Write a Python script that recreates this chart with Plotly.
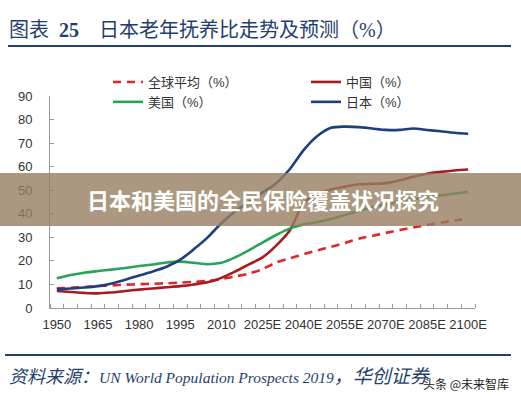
import plotly.graph_objects as go

years = [1950, 1955, 1960, 1965, 1970, 1975, 1980, 1985, 1990, 1995, 2000,
         2005, 2010, 2015, 2020, 2025, 2030, 2035, 2040, 2045, 2050,
         2055, 2060, 2065, 2070, 2075, 2080, 2085, 2090, 2095, 2100]
tick_years = [1950, 1965, 1980, 1995, 2010, 2025, 2040, 2055, 2070, 2085, 2100]
tick_labels = ["1950", "1965", "1980", "1995", "2010", "2025E", "2040E",
               "2055E", "2070E", "2085E", "2100E"]

world = [8.4, 8.6, 8.9, 9.3, 9.6, 9.9, 10.1, 10.3, 10.5, 10.8, 11.1,
         11.5, 12.3, 13.4, 14.6, 16.5, 19.3, 21.1, 22.8, 24.5, 26.0,
         27.6, 29.4, 30.6, 31.9, 33.1, 34.2, 35.2, 36.2, 37.1, 38.0]
china = [7.2, 6.8, 6.4, 6.2, 6.6, 7.2, 7.8, 8.3, 8.8, 9.3, 10.0,
         10.9, 12.8, 15.5, 18.5, 21.5, 26.5, 33.0, 44.5, 48.3, 50.3,
         51.5, 52.5, 52.7, 53.0, 54.2, 55.7, 57.0, 57.8, 58.4, 58.8]
usa = [12.6, 14.0, 15.0, 15.7, 16.3, 17.0, 17.8, 18.5, 19.3, 19.7, 19.2,
       18.6, 19.2, 21.5, 24.5, 27.8, 31.0, 33.8, 35.5, 36.5, 37.8,
       39.5, 41.2, 42.8, 44.0, 45.3, 46.2, 47.0, 47.8, 48.6, 49.3]
japan = [7.9, 8.3, 8.7, 9.3, 10.4, 12.0, 13.8, 15.5, 17.5, 20.5, 25.0,
         30.0, 36.0, 41.0, 45.0, 49.0, 53.0, 59.0, 67.0, 73.0, 76.5,
         77.0, 76.8, 76.2, 75.6, 75.6, 76.2, 75.6, 75.0, 74.4, 74.0]

series = [
    ("全球平均（%）", world, "#E0262B", "8px,6px", "legend"),
    ("中国（%）", china, "#A91B1F", "solid", "legend2"),
    ("美国（%）", usa, "#27A35A", "solid", "legend"),
    ("日本（%）", japan, "#1C3F7D", "solid", "legend2"),
]

fig = go.Figure()
for name, vals, color, dash, lg in series:
    fig.add_trace(go.Scatter(
        x=years, y=vals, name=name, mode="lines", legend=lg,
        line=dict(color=color, width=2.6, dash=dash, shape="spline", smoothing=0.8),
        hoverinfo="skip",
    ))

L, R, T, B = 50, 46, 96, 92
W, H = 521, 400
pw, ph = W - L - R, H - T - B

def px(xpix):
    return (xpix - L) / pw

def py(ypix):
    return (H - B - ypix) / ph

axis_font = dict(family="Liberation Sans, Arial, sans-serif", size=13, color="#333333")
legend_font = dict(family="Liberation Sans, Noto Sans CJK SC, sans-serif", size=13, color="#333333")

fig.update_layout(
    width=W, height=H,
    margin=dict(l=L, r=R, t=T, b=B),
    paper_bgcolor="white", plot_bgcolor="white",
    showlegend=True,
    legend=dict(
        orientation="v", x=px(108), y=py(67), xanchor="left", yanchor="top",
        traceorder="normal", font=legend_font, bgcolor="rgba(0,0,0,0)",
    ),
    legend2=dict(
        orientation="v", x=px(306), y=py(67), xanchor="left", yanchor="top",
        traceorder="normal", font=legend_font, bgcolor="rgba(0,0,0,0)",
    ),
    xaxis=dict(
        range=[1947.5, 2102.5], tickmode="array", tickvals=tick_years, ticktext=tick_labels,
        ticks="", showgrid=False, zeroline=False, showline=True, linecolor="#9a9a9a",
        linewidth=1, tickfont=axis_font, ticklabelstandoff=4,
        minor=dict(tickmode="linear", tick0=1947.5, dtick=5, ticks="inside",
                   ticklen=4, tickcolor="#9a9a9a", showgrid=False),
    ),
    yaxis=dict(
        range=[0, 90], dtick=10, ticks="inside", ticklen=4, tickcolor="#9a9a9a",
        showgrid=False, zeroline=False, showline=True, linecolor="#9a9a9a",
        linewidth=1, tickfont=axis_font, ticklabelstandoff=14,
    ),
    shapes=[
        dict(type="line", xref="paper", yref="paper", x0=px(8), x1=px(511),
             y0=py(46), y1=py(46), line=dict(color="#1F3F6E", width=2.2)),
        dict(type="line", xref="paper", yref="paper", x0=px(5), x1=px(511),
             y0=py(355), y1=py(355), line=dict(color="#1F3F6E", width=2.2)),
        dict(type="rect", xref="paper", yref="paper", x0=px(0), x1=px(W),
             y0=py(226), y1=py(173), line=dict(width=0),
             fillcolor="rgba(151,126,96,0.8)", layer="above"),
    ],
    annotations=[
        dict(xref="paper", yref="paper", x=px(7), y=py(30), xanchor="left", yanchor="middle",
             showarrow=False,
             text="图表\u00a0\u00a0<b>25</b>\u00a0\u00a0\u00a0\u00a0日本老年抚养比走势及预测（%）",
             font=dict(family="Liberation Serif, Noto Sans CJK SC, serif", size=20, color="#1F3F6E")),
        dict(xref="paper", yref="paper", x=px(263), y=py(199), xanchor="center", yanchor="middle",
             showarrow=False, text="<b>日本和美国的全民保险覆盖状况探究</b>",
             font=dict(family="Noto Sans CJK SC, sans-serif", size=22, color="white")),
        dict(xref="paper", yref="paper", x=px(7), y=py(376), xanchor="left", yanchor="middle",
             showarrow=False,
             text="<i><span style='font-size:18px'>资料来源：</span>UN World Population Prospects 2019"
                  "<span style='font-size:19px'>，华创证券</span></i>",
             font=dict(family="Liberation Serif, Noto Sans CJK SC, serif", size=15.5, color="#1F3F6E")),
        dict(xref="paper", yref="paper", x=px(511), y=py(383), xanchor="right", yanchor="middle",
             showarrow=False, text="头条 @未来智库",
             font=dict(family="Noto Sans CJK SC, sans-serif", size=12, color="#222222")),
    ],
)

fig.write_html("out.html")
